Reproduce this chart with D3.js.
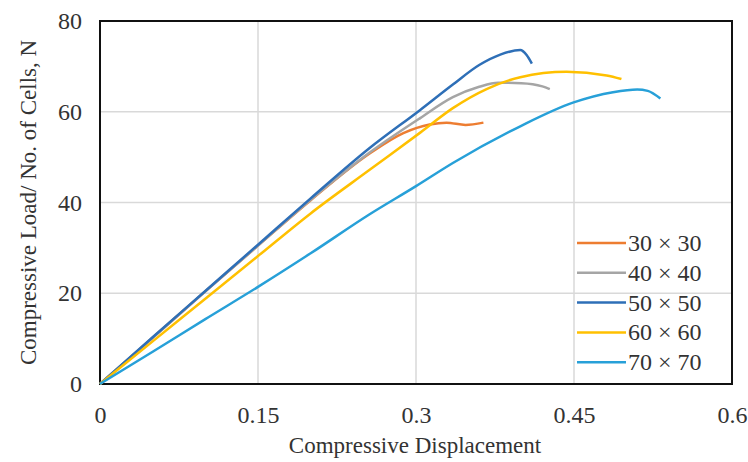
<!DOCTYPE html>
<html>
<head>
<meta charset="utf-8">
<script src="https://cdn.jsdelivr.net/npm/d3@7"></script>
<style>
  body { margin: 0; background: #fff; }
  svg, text { font-family: "Liberation Serif", "Times New Roman", serif; }
  text { fill: #333; }
</style>
</head>
<body>
<svg id="chart" width="748" height="462"></svg>
<script>
// series names and colours
var seriesNames = ["30 \u00d7 30", "40 \u00d7 40", "50 \u00d7 50", "60 \u00d7 60", "70 \u00d7 70"];
var colors = ["#ed7d31", "#a5a5a5", "#2e6fb7", "#ffc000", "#27a0d8"];

// displacement / load values
var x30 = [0, 0.05, 0.1, 0.15, 0.2, 0.256, 0.288, 0.313, 0.329, 0.347, 0.364];
var y30 = [0, 10.2, 20.4, 30.5, 40.5, 50.8, 55.3, 57.2, 57.6, 57.1, 57.6];

var x40 = [0, 0.05, 0.1, 0.15, 0.2, 0.256, 0.304, 0.335, 0.36, 0.378, 0.4, 0.42, 0.427];
var y40 = [0, 10.2, 20.4, 30.5, 40.6, 51.0, 58.6, 63.2, 65.5, 66.4, 66.3, 65.6, 65.0];

var x50 = [0, 0.05, 0.1, 0.15, 0.2, 0.256, 0.304, 0.335, 0.36, 0.38, 0.399, 0.405, 0.41];
var y50 = [0, 10.3, 20.5, 30.7, 40.9, 52.0, 60.4, 66.0, 70.3, 72.6, 73.6, 72.5, 70.6];

var x60 = [0, 0.05, 0.1, 0.15, 0.2, 0.256, 0.304, 0.335, 0.367, 0.399, 0.443, 0.481, 0.495];
var y60 = [0, 9.4, 18.8, 28.2, 37.6, 47.2, 55.4, 60.8, 65.0, 67.6, 68.8, 68.0, 67.2];

var x70 = [0, 0.05, 0.1, 0.15, 0.2, 0.256, 0.3, 0.335, 0.399, 0.449, 0.487, 0.51, 0.52, 0.532];
var y70 = [0, 7.1, 14.3, 21.4, 28.8, 37.4, 43.6, 48.7, 56.8, 62.0, 64.3, 64.9, 64.6, 62.9];

var xTicks = [0, 0.15, 0.3, 0.45, 0.6];
var yTicks = [0, 20, 40, 60, 80];

var allX = [x30, x40, x50, x60, x70];
var allY = [y30, y40, y50, y60, y70];

var svg = d3.select("#chart");
var margin = {left: 100, right: 16, top: 21, bottom: 78};
var width = 748 - margin.left - margin.right,
    height = 462 - margin.top - margin.bottom;

var x = d3.scaleLinear().domain([0, 0.6]).range([0, width]);
var y = d3.scaleLinear().domain([0, 80]).range([height, 0]);

var g = svg.append("g")
    .attr("transform", "translate(" + margin.left + "," + margin.top + ")");

// grid
g.append("g").selectAll("line.vg")
    .data(xTicks.slice(1, -1))
    .enter().append("line")
    .attr("x1", function(d) { return x(d); })
    .attr("x2", function(d) { return x(d); })
    .attr("y1", 0).attr("y2", height)
    .attr("stroke", "#d9d9d9").attr("stroke-width", 1.5);
g.append("g").selectAll("line.hg")
    .data(yTicks.slice(1, -1))
    .enter().append("line")
    .attr("y1", function(d) { return y(d); })
    .attr("y2", function(d) { return y(d); })
    .attr("x1", 0).attr("x2", width)
    .attr("stroke", "#d9d9d9").attr("stroke-width", 1.5);

// axes
var xAxis = g.append("g")
    .attr("transform", "translate(0," + height + ")")
    .call(d3.axisBottom(x).tickValues(xTicks).tickSize(0).tickPadding(22)
        .tickFormat(function(d) { return d === 0 ? "0" : String(d); }));
xAxis.attr("font-family", null);
xAxis.select(".domain").remove();
xAxis.selectAll("text").style("font-size", "24px").attr("fill", "#333");

var yAxis = g.append("g")
    .call(d3.axisLeft(y).tickValues(yTicks).tickSize(0).tickPadding(18));
yAxis.attr("font-family", null);
yAxis.select(".domain").remove();
yAxis.selectAll("text").style("font-size", "24px").attr("fill", "#333");

// plot frame
g.append("rect")
    .attr("width", width).attr("height", height)
    .attr("fill", "none").attr("stroke", "#111").attr("stroke-width", 2);

// lines
var line = d3.line()
    .x(function(d) { return x(d[0]); })
    .y(function(d) { return y(d[1]); })
    .curve(d3.curveMonotoneX);

for (var i = 0; i < allX.length; i++) {
    var pts = allX[i].map(function(v, j) { return [v, allY[i][j]]; });
    g.append("path")
        .datum(pts)
        .attr("fill", "none")
        .attr("stroke", colors[i])
        .attr("stroke-width", 2.5)
        .attr("stroke-linejoin", "round")
        .attr("d", line);
}

// legend
var legend = g.append("g").attr("transform", "translate(" + (577 - margin.left) + "," + (243 - margin.top) + ")");
seriesNames.forEach(function(name, i) {
    var row = legend.append("g").attr("transform", "translate(0," + (i * 29.8) + ")");
    row.append("line")
        .attr("x1", 0).attr("x2", 49)
        .attr("stroke", colors[i]).attr("stroke-width", 2.5);
    row.append("text")
        .attr("x", 51).attr("y", 8)
        .style("font-size", "24px")
        .text(name);
});

// axis titles
svg.append("text")
    .attr("x", margin.left + width / 2 - 1)
    .attr("y", 453)
    .attr("text-anchor", "middle")
    .style("font-size", "23px")
    .text("Compressive Displacement");

svg.append("text")
    .attr("transform", "translate(36," + (margin.top + height / 2) + ") rotate(-90)")
    .attr("text-anchor", "middle")
    .style("font-size", "23px")
    .text("Compressive Load/ No. of Cells, N");
</script>
</body>
</html>
